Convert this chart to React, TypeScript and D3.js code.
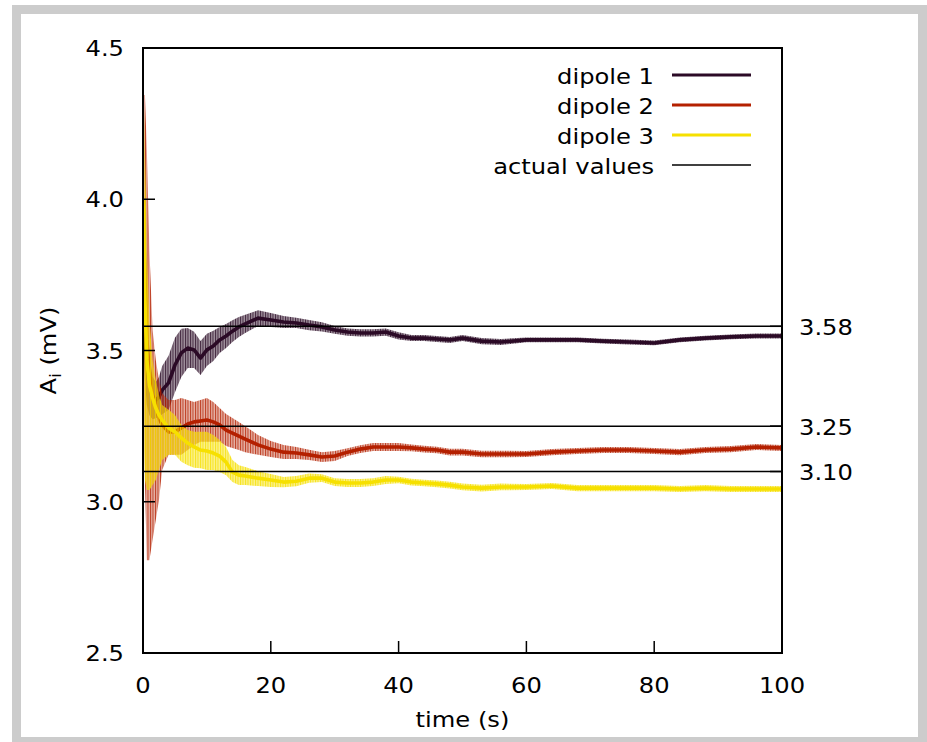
import React from "react";
import * as d3 from "d3";

// ---- data ----
const times = [0, 0.3, 0.6, 1, 1.5, 2, 2.5, 3, 4, 5, 6, 7, 8, 9, 10, 11, 12, 13, 14, 15, 16, 18, 20, 22, 24, 26, 28, 30, 32, 34, 36, 38, 40, 42, 44, 46, 48, 50, 53, 56, 60, 64, 68, 72, 76, 80, 84, 88, 92, 96, 100];

const dipole1 = [3.65, 3.55, 3.45, 3.386, 3.343, 3.336, 3.346, 3.369, 3.393, 3.452, 3.492, 3.508, 3.502, 3.475, 3.502, 3.515, 3.535, 3.548, 3.564, 3.578, 3.588, 3.607, 3.601, 3.594, 3.591, 3.584, 3.578, 3.568, 3.561, 3.558, 3.558, 3.561, 3.548, 3.541, 3.541, 3.538, 3.535, 3.541, 3.531, 3.528, 3.535, 3.535, 3.535, 3.531, 3.528, 3.525, 3.535, 3.541, 3.545, 3.548, 3.548];
const dipole1Up = [0.15, 0.15, 0.13, 0.1, 0.07, 0.06, 0.066, 0.08, 0.09, 0.09, 0.08, 0.066, 0.06, 0.056, 0.053, 0.05, 0.043, 0.04, 0.036, 0.033, 0.03, 0.026, 0.023, 0.02, 0.017, 0.017, 0.015, 0.013, 0.012, 0.012, 0.012, 0.012, 0.012, 0.01, 0.01, 0.01, 0.01, 0.01, 0.01, 0.01, 0.008, 0.008, 0.008, 0.008, 0.008, 0.008, 0.008, 0.008, 0.008, 0.008, 0.008];
const dipole1Down = dipole1Up;

const dipole2 = [3.998, 3.733, 3.535, 3.429, 3.353, 3.32, 3.277, 3.254, 3.231, 3.231, 3.244, 3.257, 3.264, 3.267, 3.27, 3.264, 3.254, 3.237, 3.227, 3.217, 3.207, 3.188, 3.174, 3.164, 3.161, 3.155, 3.148, 3.151, 3.164, 3.174, 3.181, 3.181, 3.181, 3.178, 3.174, 3.171, 3.164, 3.164, 3.158, 3.158, 3.158, 3.164, 3.168, 3.171, 3.171, 3.168, 3.164, 3.171, 3.174, 3.181, 3.178];
const dipole2Up = [0.347, 0.612, 0.628, 0.403, 0.215, 0.149, 0.126, 0.105, 0.105, 0.105, 0.099, 0.079, 0.066, 0.069, 0.073, 0.066, 0.056, 0.053, 0.05, 0.047, 0.043, 0.033, 0.027, 0.024, 0.02, 0.017, 0.016, 0.017, 0.013, 0.013, 0.013, 0.013, 0.013, 0.011, 0.011, 0.011, 0.011, 0.011, 0.011, 0.011, 0.01, 0.01, 0.01, 0.01, 0.01, 0.01, 0.01, 0.01, 0.01, 0.01, 0.01];
const dipole2Down = [0.43, 0.661, 0.728, 0.622, 0.479, 0.38, 0.271, 0.149, 0.076, 0.076, 0.089, 0.086, 0.076, 0.069, 0.072, 0.066, 0.056, 0.053, 0.049, 0.046, 0.043, 0.033, 0.026, 0.023, 0.02, 0.017, 0.017, 0.016, 0.013, 0.013, 0.013, 0.013, 0.013, 0.011, 0.011, 0.011, 0.011, 0.011, 0.011, 0.011, 0.01, 0.01, 0.01, 0.01, 0.01, 0.01, 0.01, 0.01, 0.01, 0.01, 0.01];

const dipole3 = [3.998, 3.667, 3.469, 3.386, 3.343, 3.31, 3.287, 3.27, 3.244, 3.231, 3.211, 3.194, 3.181, 3.171, 3.168, 3.161, 3.151, 3.131, 3.098, 3.088, 3.085, 3.078, 3.072, 3.065, 3.068, 3.078, 3.078, 3.065, 3.062, 3.062, 3.065, 3.072, 3.072, 3.065, 3.062, 3.059, 3.055, 3.049, 3.045, 3.049, 3.049, 3.052, 3.045, 3.045, 3.045, 3.045, 3.042, 3.045, 3.042, 3.042, 3.042];
const dipole3Up = [0.479, 0.496, 0.364, 0.215, 0.126, 0.093, 0.066, 0.05, 0.06, 0.056, 0.043, 0.043, 0.05, 0.06, 0.063, 0.06, 0.053, 0.05, 0.04, 0.033, 0.03, 0.023, 0.02, 0.017, 0.017, 0.015, 0.013, 0.013, 0.013, 0.013, 0.013, 0.013, 0.011, 0.011, 0.011, 0.011, 0.011, 0.011, 0.011, 0.011, 0.01, 0.01, 0.01, 0.01, 0.01, 0.01, 0.01, 0.01, 0.01, 0.01, 0.01];
const dipole3Down = [0.727, 0.595, 0.43, 0.347, 0.288, 0.238, 0.182, 0.132, 0.089, 0.076, 0.079, 0.073, 0.069, 0.06, 0.063, 0.056, 0.053, 0.043, 0.033, 0.033, 0.03, 0.026, 0.023, 0.017, 0.017, 0.015, 0.013, 0.013, 0.013, 0.013, 0.013, 0.013, 0.011, 0.011, 0.011, 0.011, 0.011, 0.011, 0.011, 0.011, 0.01, 0.01, 0.01, 0.01, 0.01, 0.01, 0.01, 0.01, 0.01, 0.01, 0.01];

const seriesNames = ["dipole 1", "dipole 2", "dipole 3"];
const seriesColors = ["#2b0a26", "#b42000", "#f6e000"];
const actualValues = [3.58, 3.25, 3.1];
const actualLabels = ["3.58", "3.25", "3.10"];
const xTicks = [0, 20, 40, 60, 80, 100];
const yTicks = [2.5, 3.0, 3.5, 4.0, 4.5];
const yTickLabels = ["2.5", "3.0", "3.5", "4.0", "4.5"];

const W = 927;
const H = 742;
const M = { left: 143, right: 782, top: 48, bottom: 653 };
const FONT = "'DejaVu Sans', sans-serif";
const FS = 22;
const SX = 1.1;

function T({ x, y, anchor = "start", children }: any) {
  return (
    <g transform={`translate(${x},${y}) scale(${SX},1)`}>
      <text x={0} y={0} textAnchor={anchor} fontFamily={FONT} fontSize={FS} fill="#000">
        {children}
      </text>
    </g>
  );
}

export default function App() {
  const x = d3.scaleLinear().domain([0, 100]).range([M.left, M.right]);
  const y = d3.scaleLinear().domain([2.5, 4.5]).range([M.bottom, M.top]);

  const series = [
    { mean: dipole1, up: dipole1Up, down: dipole1Down },
    { mean: dipole2, up: dipole2Up, down: dipole2Down },
    { mean: dipole3, up: dipole3Up, down: dipole3Down },
  ];

  const makeArea = (s: any) =>
    d3
      .area<number>()
      .x((_, i) => x(times[i]))
      .y0((d, i) => y(d - s.down[i]))
      .y1((d, i) => y(d + s.up[i]))
      .curve(d3.curveLinear)(s.mean) as string;

  const line = d3
    .line<number>()
    .x((_, i) => x(times[i]))
    .y((d) => y(d))
    .curve(d3.curveLinear);

  const tick = 12;

  return (
    <svg width={W} height={H} style={{ position: "absolute", left: 0, top: 0 }}>
      <defs>
        <clipPath id="plot">
          <rect x={M.left} y={M.top} width={M.right - M.left} height={M.bottom - M.top} />
        </clipPath>
        {seriesColors.map((c, i) => (
          <pattern key={i} id={`stripe${i}`} width={2.5} height={10} patternUnits="userSpaceOnUse">
            <rect x={0} y={0} width={2.5} height={10} fill={c} opacity={i === 1 ? 0.35 : 0.45} />
            <rect x={0} y={0} width={1} height={10} fill={c} opacity={0.8} />
          </pattern>
        ))}
      </defs>
      {/* frame */}
      <rect x={12} y={5} width={W - 12} height={H - 5} fill="#cccccc" />
      <rect x={21} y={14} width={897} height={723} fill="#ffffff" />

      <g clipPath="url(#plot)">
        {series.map((s, i) => (
          <g key={i}>
            <path d={makeArea(s)} fill={`url(#stripe${i})`} stroke="none" />
            <path d={line(s.mean) as string} fill="none" stroke={seriesColors[i]} strokeWidth={3.6} strokeLinejoin="round" />
          </g>
        ))}
        {actualValues.map((v, i) => (
          <line key={i} x1={M.left} x2={M.right} y1={y(v)} y2={y(v)} stroke="#000" strokeWidth={1.5} />
        ))}
      </g>

      {/* border */}
      <rect x={M.left} y={M.top} width={M.right - M.left} height={M.bottom - M.top} fill="none" stroke="#000" strokeWidth={2} />

      {/* y ticks */}
      {yTicks.map((v, i) => (
        <g key={i}>
          <line x1={M.left} x2={M.left + tick} y1={y(v)} y2={y(v)} stroke="#000" strokeWidth={1.5} />
          <T x={124} y={y(v) + 8} anchor="end">{yTickLabels[i]}</T>
        </g>
      ))}
      {/* x ticks */}
      {xTicks.map((v, i) => (
        <g key={i}>
          <line x1={x(v)} x2={x(v)} y1={M.bottom} y2={M.bottom - tick} stroke="#000" strokeWidth={1.5} />
          <T x={x(v)} y={693} anchor="middle">{String(v)}</T>
        </g>
      ))}
      {/* y2 ticks */}
      {actualValues.map((v, i) => (
        <g key={i}>
          <line x1={M.right - tick} x2={M.right} y1={y(v)} y2={y(v)} stroke="#000" strokeWidth={1.5} />
          <T x={799} y={y(v) + 8.5} anchor="start">{actualLabels[i]}</T>
        </g>
      ))}

      {/* axis titles */}
      <T x={(M.left + M.right) / 2} y={727} anchor="middle">time (s)</T>
      <g transform={`translate(56,${(M.top + M.bottom) / 2}) rotate(-90) scale(${SX},1)`}>
        <text x={0} y={0} textAnchor="middle" fontFamily={FONT} fontSize={FS} fill="#000">
          A<tspan fontSize={15} dy={5}>i</tspan>
          <tspan dy={-5}> (mV)</tspan>
        </text>
      </g>

      {/* legend */}
      {[...seriesNames, "actual values"].map((name, i) => {
        const ly = 75 + i * 30;
        const color = i < 3 ? seriesColors[i] : "#000";
        return (
          <g key={i}>
            <T x={654} y={ly + 9} anchor="end">{name}</T>
            <line x1={672} x2={751} y1={ly} y2={ly} stroke={color} strokeWidth={i < 3 ? 3 : 1.5} />
          </g>
        );
      })}
    </svg>
  );
}
